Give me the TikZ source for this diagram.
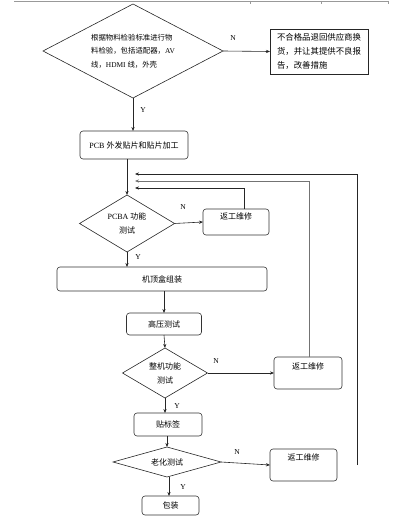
\documentclass[tikz,border=0pt]{standalone}
\usepackage{fontspec}
\setmainfont{Liberation Serif}
\newfontfamily\cjk{Noto Sans CJK SC}
\usetikzlibrary{shapes.geometric,arrows.meta}
\tikzset{
  every node/.style={inner sep=0pt,outer sep=0pt},
  line/.style={draw=black!85,line width=0.6pt},
  arr/.style={line,-{Stealth[length=4pt,width=3.2pt]}},
  rbox/.style={draw=black!80,line width=0.6pt,rounded corners=3pt,align=center,font=\fontsize{8}{11}\selectfont\cjk},
  sbox/.style={draw=black!85,line width=0.6pt,align=left,font=\fontsize{8.4}{14}\selectfont\cjk},
  dia/.style={draw=black!85,line width=0.6pt,diamond,align=center,font=\fontsize{8}{13}\selectfont\cjk},
  yn/.style={font=\fontsize{7.5}{8}\selectfont}
}
\begin{document}
\begin{tikzpicture}[x=1pt,y=-1pt]
\useasboundingbox (0,0) rectangle (409,521);
% page frame line at top
\draw[gray!80,line width=0.5pt] (14,1) -- (388,1);
\draw[gray!80,line width=0.5pt] (250,1) -- (250,4) (321,1) -- (321,4) (388,1) -- (388,4);

\node[dia,minimum width=180pt,minimum height=94pt,shape aspect=1.9,align=left,font=\fontsize{7.4}{13.5}\selectfont] (d1) at (133,51)
 {{\cjk 根据物料检验标准进行物}\\{\cjk 料检验，包括适配器，}AV\\{\cjk 线，}HDMI {\cjk 线，外壳}};
\node[sbox,minimum width=98pt,minimum height=45pt] (bad) at (319,51.5)
 {不合格品退回供应商换\\货，并让其提供不良报\\告，改善措施};
\node[rbox,minimum width=108pt,minimum height=28pt,font=\fontsize{8}{10}\selectfont] (pcb) at (134,145) {PCB {\cjk 外发贴片和贴片加工}};
\node[dia,minimum width=95pt,minimum height=57pt,shape aspect=1.67,font=\fontsize{8}{14}\selectfont] (d2) at (127,223.5) {PCBA {\cjk 功能}\\{\cjk 测试}};
\node[rbox,minimum width=66pt,minimum height=26pt] (r1) at (236,222) {返工维修\\[1pt]\mbox{}};
\node[rbox,minimum width=210pt,minimum height=24pt] (asm) at (162,279) {机顶盒组装};
\node[rbox,minimum width=75pt,minimum height=22pt] (hv) at (164,324) {高压测试};
\node[dia,minimum width=85pt,minimum height=50pt,shape aspect=1.7,font=\fontsize{8}{14}\selectfont\cjk] (d3) at (165,373) {整机功能\\测试};
\node[rbox,minimum width=68pt,minimum height=32pt] (r2) at (308,373) {返工维修\\[2pt]\mbox{}};
\node[rbox,minimum width=68pt,minimum height=23pt] (lab) at (168,424.5) {贴标签};
\node[dia,minimum width=108pt,minimum height=30pt,shape aspect=3.6] (d4) at (167,462) {老化测试};
\node[rbox,minimum width=67pt,minimum height=32pt] (r3) at (303.5,465) {返工维修\\[5pt]\mbox{}};
\node[rbox,minimum width=57pt,minimum height=19pt] (pack) at (170.5,505.5) {包装};

% joins on the feedback trunk
\coordinate (j1) at (135,174);
\coordinate (j2) at (135,181);
\coordinate (j3) at (135,188);
\coordinate (rt) at (357,465);

% connectors
\draw[arr] (d1.east) -- (bad.west);
\draw[arr] (d1.south) -- (d1.south |- pcb.north);
\draw[arr] (pcb.south -| d2.north) -- (d2.north);
\draw[arr] (d2.east) -- (r1.west);
\draw[arr] ([xshift=8pt]r1.north) |- (j3);
\draw[arr] (d2.south) -- (d2.south |- asm.north);
\draw[arr] (hv.north |- asm.south) -- (hv.north);
\draw[arr] (hv.south) -- (d3.north);
\draw[arr] (d3.east) -- (r2.west);
\draw[arr,draw=black!55] ([xshift=1pt]r2.north) |- (j2);
\draw[arr] (d3.south) -- (d3.south |- lab.north);
\draw[arr] (d4.north |- lab.south) -- (d4.north);
\draw[arr] (d4.east) -- (r3.west);
\draw[arr] ([xshift=2pt]d4.south) -- ([xshift=2pt]d4.south |- pack.north);
\draw[arr] (rt) |- (j1);

% labels
\node[yn] (n1) at (233,38) {N};
\node[yn] (y1) at (143,110) {Y};
\node[yn] (n2) at (183,207) {N};
\node[yn] (y2) at (138,257) {Y};
\node[yn] (n3) at (216,361) {N};
\node[yn] (y3) at (177,406) {Y};
\node[yn] (n4) at (237,452) {N};
\node[yn] (y4) at (183,487) {Y};
\end{tikzpicture}
\end{document}
